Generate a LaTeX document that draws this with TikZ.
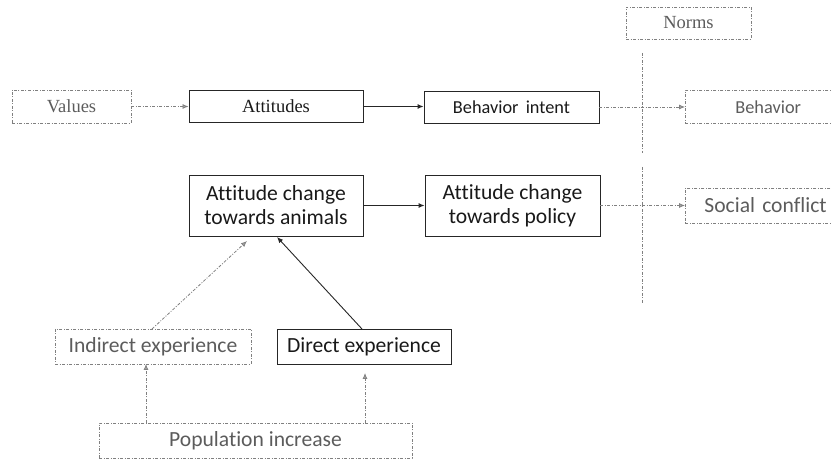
\documentclass[tikz,border=0pt]{standalone}
\usepackage{fontspec}
\setmainfont{Liberation Serif}
\newfontfamily\carl[Ligatures=NoCommon]{Carlito}
\usetikzlibrary{arrows.meta}
\definecolor{dgray}{gray}{0.5}
\definecolor{tgray}{gray}{0.36}
\tikzset{
  x=1pt,y=1pt,
  solidbox/.style={draw=black!85,line width=0.9pt,minimum height=32pt,inner sep=0pt,text=black!90},
  dotbox/.style={draw=dgray,line width=0.8pt,dash pattern=on 3pt off 1.5pt on 1pt off 1.5pt,minimum height=33pt,inner sep=0pt,text=tgray},
  solidarr/.style={draw=black!85,line width=0.9pt,-{Latex[length=6pt,width=5pt]}},
  dotarr/.style={draw=dgray,line width=0.8pt,dash pattern=on 3pt off 1.5pt on 1pt off 1.5pt,-{Latex[length=6pt,width=5pt,fill=dgray!70]}},
  dotline/.style={draw=dgray,line width=0.8pt,dash pattern=on 3pt off 1.5pt on 1pt off 1.5pt},
  serifbig/.style={font=\fontsize{18.5}{21}\selectfont},
  carlmid/.style={font=\carl\fontsize{18.3}{21}\selectfont},
  carlbig/.style={font=\carl\fontsize{21.6}{25}\selectfont},
}
\begin{document}
\begin{tikzpicture}
\useasboundingbox (0,0) rectangle (832,460);
% top row
\node[dotbox,minimum width=119pt,serifbig] (values) at (71.5,353.5) {Values};
\node[solidbox,minimum width=174pt,serifbig] (att) at (276,353.5) {Attitudes};
\node[solidbox,minimum width=175pt,carlmid] (bint) at (511.5,353) {Behavior\, intent};
\node[dotbox,minimum width=125pt,minimum height=32pt,serifbig] (norms) at (688.5,437) {Norms};
\node[dotbox,minimum width=160pt,anchor=west,carlmid,text width=150pt,align=left] (beh) at (685,353) {\hspace*{45pt}Behavior};
% second row
\node[solidbox,minimum width=174pt,minimum height=61pt,align=center,carlbig] (aca) at (276,254.5) {Attitude change\\[-1pt]towards animals};
\node[solidbox,minimum width=175pt,minimum height=61pt,align=center,carlbig] (acp) at (512.5,254.5) {Attitude change\\[-1pt]towards policy};
\node[dotbox,minimum width=160pt,minimum height=35pt,anchor=west,carlbig,text width=150pt,align=left] (soc) at (685,254.5) {\hspace*{14pt}Social conflict};
% lower
\node[dotbox,minimum width=196pt,minimum height=35pt,carlbig] (ind) at (153,113.5) {Indirect experience};
\node[solidbox,minimum width=174pt,minimum height=35pt,carlbig] (dir) at (364,113.5) {Direct experience};
\node[dotbox,minimum width=313pt,minimum height=35pt,carlbig] (pop) at (255.5,19.5) {Population increase};
% coordinates
\coordinate (n1) at (642,407);
\coordinate (n2) at (642,307);
\coordinate (n3) at (642,293);
\coordinate (n4) at (642,157);
\coordinate (indtop) at (152,131);
\coordinate (indtip) at (247,219);
\coordinate (dirtop) at (362,131);
\coordinate (dirtip) at (277,223);
\coordinate (pop1) at (146,37);
\coordinate (ind1) at (146,96);
\coordinate (pop2) at (365,37);
\coordinate (dirlow) at (365,87);
% connectors
\draw[dotarr] (values.east) -- (att.west);
\draw[solidarr] (att.east) -- (att.east -| bint.west);
\draw[dotarr] (bint.east) -- (bint.east -| beh.west);
\draw[solidarr] (aca.east) -- (acp.west);
\draw[dotarr] (acp.east) -- (acp.east -| soc.west);
\draw[dotline] (n1) -- (n2);
\draw[dotline] (n3) -- (n4);
\draw[dotarr] (indtop) -- (indtip);
\draw[solidarr] (dirtop) -- (dirtip);
\draw[dotarr] (pop1) -- (ind1);
\draw[dotarr] (pop2) -- (dirlow);
\end{tikzpicture}
\end{document}
